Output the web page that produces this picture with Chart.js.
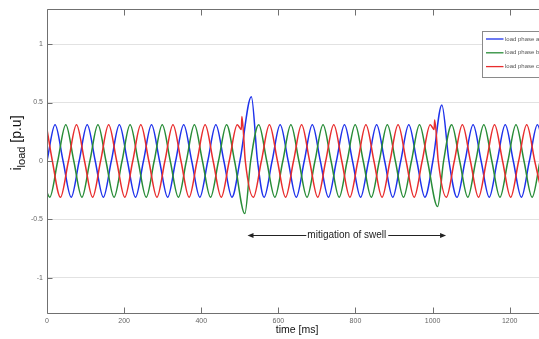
<!DOCTYPE html>
<html>
<head>
<meta charset="utf-8">
<script src="https://cdn.jsdelivr.net/npm/chart.js@4.4.1/dist/chart.umd.min.js"></script>
<style>
body{margin:0;background:#fff;}
#wrap{width:539px;height:339px;}
</style>
</head>
<body>
<div id="wrap"><canvas id="loadChart" width="539" height="339"></canvas></div>
<script>
// load currents [p.u.], one point per quarter cycle
let phaseLabels = ["load phase a","load phase b","load phase c"];

let xTicks = [0,200,400,600,800,1000,1200];
let yTicks = [-1,-0.5,0,0.5,1];

let timeA = [0,20.9,41.7,62.6, 83.4,104.3,125.1,146, 166.8,187.7,208.5,229.4,
250.2,271.1,291.9,312.8, 333.6,354.5,375.3,396.2, 417,437.9,458.7,479.6,
500.4,530,546,563, 583.8,604.7,625.5,646.4, 667.2,688.1,708.9,729.8,
750.6,771.5,792.3,813.2, 834,854.9,875.7,896.6, 917.4,938.3,959.1,980,
1000.8,1024,1042.5,1063.4, 1084.2,1105.1,1125.9,1146.8, 1167.6,1188.5,1209.3,1230.2,
1251,1271.9,1292.7];
let currA = [0,.31,0,-.31, 0,.31,0,-.31, 0,.31,0,-.31,
0,.31,0,-.31, 0,.31,0,-.31, 0,.31,0,-.31,
0,.55,0,-.31, 0,.31,0,-.31, 0,.31,0,-.31,
0,.31,0,-.31, 0,.31,0,-.31, 0,.31,0,-.31,
0,.48,0,-.31, 0,.31,0,-.31, 0,.31,0,-.31,
0,.31,0];

let timeB = [0, 7,27.8,48.7,69.5, 90.4,111.2,132.1,152.9, 173.8,194.6,215.5,236.3,
257.2,278,298.9,319.7, 340.6,361.4,382.3,403.1, 424,444.8,465.7,486.5,
513,528.2,549.1,569.9, 590.8,611.6,632.5,653.3, 674.2,695,715.9,736.7,
757.6,778.4,799.3,820.1, 841,861.8,882.7,903.5, 924.4,945.2,966.1,986.9,
1013,1028.6,1049.5,1070.3, 1091.2,1112,1132.9,1153.7, 1174.6,1195.4,1216.3,1237.1,
1258,1278.8,1299.7];
let currB = [-.27, -.31,0,.31,0, -.31,0,.31,0, -.31,0,.31,0,
-.31,0,.31,0, -.31,0,.31,0, -.31,0,.31,0,
-.45,0,.31,0, -.31,0,.31,0, -.31,0,.31,0,
-.31,0,.31,0, -.31,0,.31,0, -.31,0,.31,0,
-.39,0,.31,0, -.31,0,.31,0, -.31,0,.31,0,
-.31,0,.31];

let timeC = [0, 13.9,34.8,55.6,76.5, 97.3,118.2,139,159.9, 180.7,201.6,222.4,243.3,
264.1,285,305.8,326.7, 347.5,368.4,389.2,410.1, 430.9,451.8,472.6,493.5,
504,505.5, 514.3,535.2,556,576.9, 597.7,618.6,639.4,660.3, 681.1,702,722.8,743.7,
764.5,785.4,806.2,827.1, 847.9,868.8,889.6,910.5, 931.3,952.2,973,993.9,
1004,1005.5, 1014.7,1035.6,1056.4,1077.3, 1098.1,1119,1139.8,1160.7,
1181.5,1202.4,1223.2,1244.1, 1264.9,1285.8];
let currC = [.27, 0,-.31,0,.31, 0,-.31,0,.31, 0,-.31,0,.31,
0,-.31,0,.31, 0,-.31,0,.31, 0,-.31,0,.31,
.27,.38, 0,-.31,0,.31, 0,-.31,0,.31, 0,-.31,0,.31,
0,-.31,0,.31, 0,-.31,0,.31, 0,-.31,0,.31,
.27,.35, 0,-.31,0,.31, 0,-.31,0,.31,
0,-.31,0,.31, 0,-.31];

// the "mitigation of swell" arrow, in data units
let swellFrom = 520;
let swellTo = 1035;
let swellLevel = -0.63;
let swellText = "mitigation of swell";

let ff = "'Liberation Sans', Arial, sans-serif";

function pts(t, v){
return t.map((x,i)=>({x:x, y:v[i]}));
}

let extras = {
id:"extras",
afterDatasetsDraw(chart){
let ctx = chart.ctx;
let xs = chart.scales.x, ys = chart.scales.y;
let x1 = xs.getPixelForValue(swellFrom);
let x2 = xs.getPixelForValue(swellTo);
let y = Math.round(ys.getPixelForValue(swellLevel)) + 0.5;
ctx.save();
ctx.font = "10px " + ff;
let tw = ctx.measureText(swellText).width;
let cx = (x1 + x2) / 2;
ctx.strokeStyle = "#222";
ctx.fillStyle = "#222";
ctx.lineWidth = 1;
ctx.beginPath();
ctx.moveTo(x1 + 4, y); ctx.lineTo(cx - tw/2 - 1, y);
ctx.moveTo(cx + tw/2 + 2, y); ctx.lineTo(x2 - 4, y);
ctx.stroke();
ctx.beginPath();
ctx.moveTo(x1, y); ctx.lineTo(x1 + 6, y - 2.5); ctx.lineTo(x1 + 6, y + 2.5); ctx.closePath();
ctx.moveTo(x2, y); ctx.lineTo(x2 - 6, y - 2.5); ctx.lineTo(x2 - 6, y + 2.5); ctx.closePath();
ctx.fill();
ctx.textAlign = "center";
ctx.textBaseline = "middle";
ctx.fillText(swellText, cx, y);
ctx.restore();
},
afterDraw(chart){
let ctx = chart.ctx, a = chart.chartArea;
let xs = chart.scales.x, ys = chart.scales.y;
ctx.save();

// axes box (top, left, bottom) with inward ticks
ctx.strokeStyle = "#707070";
ctx.lineWidth = 1;
ctx.beginPath();
let L = Math.round(a.left) + 0.5, T = Math.round(a.top) + 0.5, B = Math.round(a.bottom) + 0.5;
ctx.moveTo(a.right, T); ctx.lineTo(L, T); ctx.lineTo(L, B); ctx.lineTo(a.right, B);
xTicks.forEach(v=>{
let px = Math.round(xs.getPixelForValue(v)) + 0.5;
ctx.moveTo(px, B); ctx.lineTo(px, B - 6);
ctx.moveTo(px, T); ctx.lineTo(px, T + 6);
});
yTicks.forEach(v=>{
let py = Math.round(ys.getPixelForValue(v)) + 0.5;
ctx.moveTo(L, py); ctx.lineTo(L + 5, py);
});
ctx.stroke();

// legend box, top right, partly cut by the picture edge
let bx = Math.round(a.right - 57) + 0.5, by = Math.round(a.top + 22) + 0.5;
ctx.fillStyle = "#fff";
ctx.fillRect(bx, by, 80, 46);
ctx.strokeStyle = "#8a8a8a";
ctx.strokeRect(bx, by, 80, 46);
ctx.font = "6px " + ff;
ctx.textBaseline = "middle";
chart.data.datasets.forEach((ds,i)=>{
let ly = by + 7.5 + i * 13.8;
ctx.strokeStyle = ds.borderColor;
ctx.lineWidth = 1.3;
ctx.beginPath();
ctx.moveTo(bx + 3.5, ly); ctx.lineTo(bx + 21, ly);
ctx.stroke();
ctx.fillStyle = "#555";
ctx.fillText(ds.label, bx + 22.5, ly);
});

// axis titles
ctx.fillStyle = "#111";
ctx.font = "10.5px " + ff;
ctx.textAlign = "center";
ctx.textBaseline = "middle";
ctx.fillText("time [ms]", (a.left + a.right) / 2 + 4, 330);

ctx.translate(17, (a.top + a.bottom) / 2 - 18);
ctx.rotate(-Math.PI / 2);
ctx.textAlign = "left";
ctx.textBaseline = "alphabetic";
ctx.font = "14px " + ff;
let wi = ctx.measureText("i").width;
let wr = ctx.measureText(" [p.u]").width;
ctx.font = "11px " + ff;
let wl = ctx.measureText("load").width;
let x0 = -(wi + wl + wr) / 2;
ctx.font = "14px " + ff;
ctx.fillText("i", x0, 4);
ctx.font = "11px " + ff;
ctx.fillText("load", x0 + wi, 8);
ctx.font = "14px " + ff;
ctx.fillText(" [p.u]", x0 + wi + wl, 4);
ctx.restore();
}
};

let lineStyle = {
borderWidth:1.5,
pointRadius:0,
cubicInterpolationMode:"monotone",
fill:false
};

new Chart(document.getElementById("loadChart"),{

type:"line",

data:{
datasets:[
Object.assign({label:phaseLabels[0], data:pts(timeA,currA), borderColor:"rgb(30,50,235)", order:3}, lineStyle),
Object.assign({label:phaseLabels[1], data:pts(timeB,currB), borderColor:"rgb(40,140,55)", order:2}, lineStyle),
Object.assign({label:phaseLabels[2], data:pts(timeC,currC), borderColor:"rgb(232,45,45)", order:1}, lineStyle)
]
},

options:{
responsive:false,
animation:false,
devicePixelRatio:1,
layout:{padding:{top:9,left:0,right:0,bottom:0}},
plugins:{
legend:{display:false},
tooltip:{enabled:false}
},
scales:{
x:{
type:"linear",
min:0,
max:1276,
afterBuildTicks(axis){ axis.ticks = xTicks.map(v=>({value:v})); },
afterFit(axis){ axis.height = 26; },
grid:{display:false, drawTicks:false},
border:{display:false},
ticks:{
padding:4,
maxRotation:0,
color:"#666",
font:{family:ff, size:7},
callback:v=>String(v)
}
},
y:{
min:-1.3,
max:1.3,
afterBuildTicks(axis){ axis.ticks = yTicks.map(v=>({value:v})); },
afterFit(axis){ axis.width = 47; },
grid:{color:"#e2e2e2", drawTicks:false},
border:{display:false},
ticks:{
padding:4,
color:"#666",
font:{family:ff, size:7},
callback:v=>String(v)
}
}
}
},

plugins:[extras]

});
</script>
</body>
</html>
